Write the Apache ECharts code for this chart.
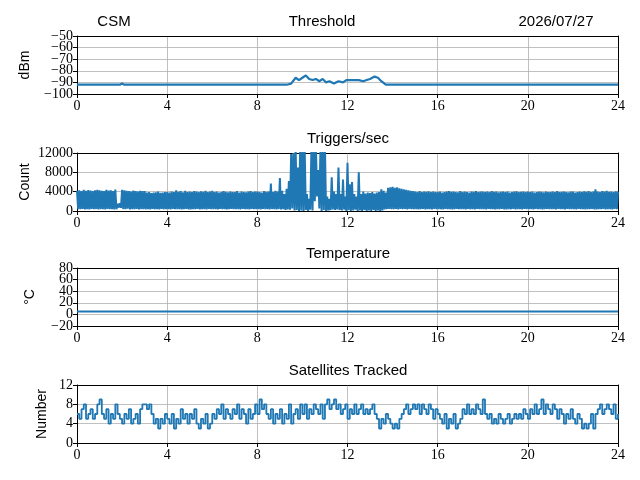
<!DOCTYPE html>
<html>
<head>
<meta charset="utf-8">
<script src="https://cdn.jsdelivr.net/npm/echarts@6/dist/echarts.min.js"></script>
<style>
  html, body { margin: 0; padding: 0; background: #fff; }
  #main { width: 640px; height: 480px; }
</style>
</head>
<body>
<div id="main"></div>
<script>
// data, hours 0-24

// threshold (dBm), irregular sample times
var thrT = [0, 1.9, 2.0, 2.1, 9.3, 9.5, 9.7, 9.85, 10.0, 10.15, 10.3, 10.45, 10.6, 10.75, 10.9, 11.05,
            11.2, 11.4, 11.6, 11.8, 11.95, 12.1, 12.3, 12.5, 12.7, 12.85, 13.0, 13.2, 13.35, 13.5, 13.7, 24];
var thrV = [-92, -92, -91, -92, -92, -91, -86, -88, -86, -84, -87, -88, -87, -89, -87, -90,
            -89, -91, -89, -90, -88, -88, -88, -88, -89, -88, -87, -85, -86, -89, -92, -92];

// triggers per second, one value every 0.05 h (20 per row = 1 hour)
var trigStep = 0.05;
var trigV = [
  4200,400,4300,350,4100,450,4400,300,4200,400,4350,300,4250,450,4100,350,4300,400,4400,300,
  4300,350,4200,400,4100,300,4400,450,4250,350,4300,400,4150,300,4450,350,1500,700,1600,650,
  4400,400,4300,350,4200,500,4100,300,4000,400,4250,350,4150,450,4000,300,4200,400,4100,350,
  4100,350,3800,400,3900,300,3700,450,3800,350,3850,400,4000,300,3750,450,3800,350,3900,400,
  3900,400,3800,300,4000,450,3900,350,4300,400,3950,350,4100,300,3850,400,4200,450,3900,300,
  4000,300,3900,400,4100,350,4000,450,3900,300,4050,400,3950,350,4200,300,3900,450,4000,350,
  4200,400,3900,350,4000,300,3800,450,3900,400,4100,350,3950,300,3850,400,4000,450,3900,350,
  3900,350,4100,400,3800,300,4000,450,3900,350,3850,400,4000,300,4150,450,3900,350,4000,400,
  4000,400,3900,300,3800,450,4100,350,3950,400,4000,300,5700,400,3900,350,4200,300,4000,400,
  6800,300,4200,400,3500,200,4600,300,6200,250,11800,500,12000,100,13000,200,9000,0,13000,100,
  13000,0,13000,200,3500,0,2500,300,13000,100,13000,2000,13000,3000,8500,500,13000,0,13000,200,
  13000,0,3000,100,2500,200,7000,300,4000,200,3500,300,9000,200,3500,100,6500,300,3000,0,
  10000,200,5500,0,6000,100,3500,300,3000,0,8000,100,3500,0,4000,200,3600,0,3800,100,
  3700,0,3900,200,3600,0,3800,100,3900,0,4500,100,4200,300,3800,400,4800,400,4900,350,
  5000,350,4800,400,4900,300,4700,450,4600,350,4500,400,4400,300,4300,450,4200,350,4100,400,
  4000,400,3900,300,4100,350,3900,450,4000,300,3950,400,4050,350,3900,300,4000,450,3900,400,
  3900,400,4000,350,3800,300,3900,450,4000,400,4100,350,3950,300,4000,400,3900,450,3850,350,
  4100,350,3900,400,4000,300,3900,450,3800,350,4000,400,3950,300,4100,450,3900,350,4000,400,
  4000,400,3900,300,4000,450,3900,350,4100,400,3950,300,4000,400,3850,350,3950,450,4000,300,
  3900,300,4000,400,3800,350,3900,450,4000,300,4050,400,3900,350,3950,300,4000,450,3900,400,
  4000,400,3900,350,4000,300,3800,450,3900,400,4000,350,3950,300,3850,400,4000,450,3900,350,
  3900,350,4000,400,3900,300,4100,450,3900,350,3950,400,4000,300,3900,450,3850,350,4000,400,
  4000,400,3800,300,3900,450,4000,350,3900,400,4050,300,3950,400,4100,350,3900,450,4000,300,
  4500,300,4000,400,3900,350,4100,450,4000,300,4200,400,3950,350,4000,300,3900,450,4050,400,
  4000
];

// temperature (°C)
var tempT = [0, 24];
var tempV = [5, 5];

// satellites tracked, one value every 0.1 h
var satStep = 0.1;
var satV = [
  6, 5, 7, 8, 5, 6, 7, 5, 6, 8,
  9, 6, 5, 7, 4, 6, 5, 8, 6, 5,
  4, 6, 5, 7, 4, 5, 6, 4, 7, 8,
  8, 7, 8, 6, 4, 5, 3, 5, 4, 6,
  5, 4, 6, 3, 5, 4, 7, 5, 6, 4,
  6, 5, 7, 4, 3, 5, 4, 6, 3, 4,
  6, 5, 7, 6, 8, 5, 7, 6, 5, 7,
  6, 8, 5, 7, 6, 4, 7, 5, 6, 8,
  6, 9, 7, 8, 6, 5, 7, 4, 6, 5,
  7, 4, 6, 5, 8, 4, 6, 7, 5, 8,
  6, 8, 5, 7, 6, 8, 7, 6, 8, 5,
  8, 9, 7, 8, 9, 7, 8, 6, 7, 8,
  5, 7, 6, 8, 6, 7, 8, 6, 7, 6,
  7, 8, 6, 5, 3, 5, 4, 6, 5, 4,
  3, 4, 3, 5, 6, 7, 8, 6, 7, 8,
  7, 8, 6, 8, 7, 6, 8, 7, 5, 7,
  6, 5, 4, 6, 3, 5, 4, 6, 3, 4,
  5, 7, 6, 8, 6, 7, 6, 8, 7, 6,
  9, 6, 5, 6, 4, 5, 4, 6, 5, 4,
  5, 6, 4, 5, 6, 5, 6, 5, 7, 6,
  5, 7, 6, 8, 6, 7, 9, 6, 8, 7,
  6, 8, 7, 5, 7, 6, 4, 6, 5, 7,
  5, 4, 6, 5, 3, 4, 3, 4, 6, 3,
  6, 7, 8, 6, 7, 8, 7, 6, 8, 5,
  6
];

function pairs(t, v) {
  return v.map(function (y, i) { return [t[i], y]; });
}
function stepped(step, v) {
  return v.map(function (y, i) { return [+(i * step).toFixed(3), y]; });
}

var blue = '#1f77b4';
var serif = 'Liberation Serif';
var sans = 'Liberation Sans';
var tops = [36, 153, 268, 385];
var yRanges = [[-100, -50, 10], [0, 12000, 4000], [-20, 80, 20], [0, 12, 4]];
var yNames = ['dBm', 'Count', '°C', 'Number'];
var yGaps = [45, 45, 40, 28];

var grids = tops.map(function (t) {
  return { left: 77, right: 22, top: t, height: 58, outerBoundsMode: 'none' };
});

var black = { show: true, onZero: false, lineStyle: { color: '#000', width: 1 } };
var tick = { show: true, inside: false, length: 4, lineStyle: { color: '#000' } };
var gridLine = { show: true, lineStyle: { color: '#b0b0b0', width: 0.8 } };

function fmt(v) { return String(v).replace('-', '\u2212'); }

var xAxes = tops.map(function (t, i) {
  return {
    type: 'value', gridIndex: i, min: 0, max: 24, interval: 4,
    axisLine: black, axisTick: tick, splitLine: gridLine,
    axisLabel: { margin: 5, color: '#000', fontFamily: serif, fontSize: 14,
                 showMinLabel: true, showMaxLabel: true }
  };
});

// main y axes: interior labels (echarts drops crowded end labels, so those come from a twin axis)
var yAxes = yRanges.map(function (r, i) {
  return {
    type: 'value', gridIndex: i, min: r[0], max: r[1], interval: r[2],
    name: yNames[i], nameLocation: 'middle', nameRotate: 90, nameGap: yGaps[i],
    nameTextStyle: { fontFamily: sans, fontSize: 14, color: '#000' },
    axisLine: black, axisTick: tick, splitLine: gridLine,
    axisLabel: { margin: 4, color: '#000', fontFamily: serif, fontSize: 14,
                 showMinLabel: false, showMaxLabel: false, formatter: fmt }
  };
});
// twin axes carrying only the end labels
yRanges.forEach(function (r, i) {
  yAxes.push({
    type: 'value', gridIndex: i, position: 'left', min: r[0], max: r[1], interval: r[2],
    axisLine: { show: false }, axisTick: tick, splitLine: { show: false },
    axisLabel: { margin: 4, color: '#000', fontFamily: serif, fontSize: 14,
                 showMinLabel: true, showMaxLabel: true,
                 formatter: function (v) { return (v === r[0] || v === r[1]) ? fmt(v) : ''; } }
  });
});
// top and right spines to close each box
tops.forEach(function (t, i) {
  xAxes.push({ type: 'value', gridIndex: i, position: 'top', min: 0, max: 24,
               axisLine: black, axisTick: { show: false }, axisLabel: { show: false },
               splitLine: { show: false } });
  yAxes.push({ type: 'value', gridIndex: i, position: 'right', min: yRanges[i][0], max: yRanges[i][1],
               axisLine: black, axisTick: { show: false }, axisLabel: { show: false },
               splitLine: { show: false } });
});

function lineSeries(i, data, w, extra) {
  var s = { type: 'line', xAxisIndex: i, yAxisIndex: i, data: data, symbol: 'none',
            animation: false, clip: true, lineStyle: { color: blue, width: w } };
  for (var k in extra) s[k] = extra[k];
  return s;
}

function label(text, x, y) {
  return { type: 'text', x: x, y: y,
           style: { text: text, fontFamily: sans, fontSize: 15, fill: '#000',
                    align: 'center', verticalAlign: 'middle' } };
}

var chart = echarts.init(document.getElementById('main'));
chart.setOption({
  backgroundColor: '#fff',
  grid: grids,
  xAxis: xAxes,
  yAxis: yAxes,
  graphic: [
    label('CSM', 114, 22),
    label('Threshold', 322, 22),
    label('2026/07/27', 556, 22),
    label('Triggers/sec', 348, 139),
    label('Temperature', 348, 254),
    label('Satellites Tracked', 348, 371)
  ],
  series: [
    lineSeries(0, pairs(thrT, thrV), 2.2),
    lineSeries(1, stepped(trigStep, trigV), 2),
    lineSeries(2, pairs(tempT, tempV), 2),
    lineSeries(3, stepped(satStep, satV), 1.8, { step: 'end' })
  ]
});
</script>
</body>
</html>
